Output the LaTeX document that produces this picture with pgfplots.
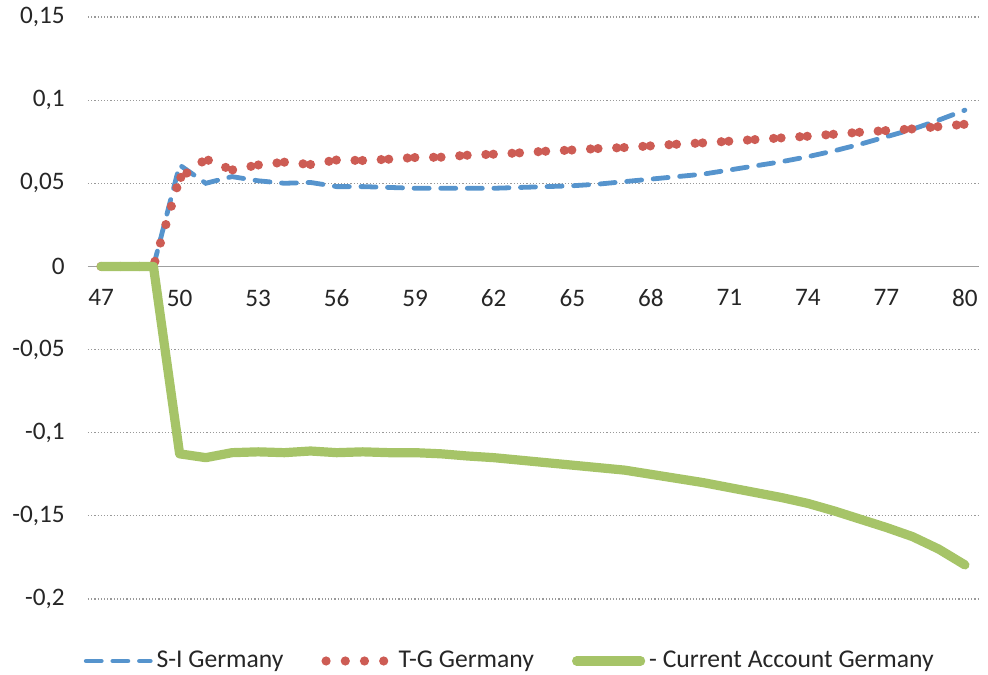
\documentclass[border=0pt]{standalone}
\usepackage{pgfplots}
\pgfplotsset{compat=1.18}
\usepackage{fontspec}
\setmainfont{Carlito}
\definecolor{siblue}{RGB}{86,148,205}
\definecolor{tgred}{RGB}{205,92,84}
\definecolor{cagreen}{RGB}{166,196,104}
\begin{document}
\begin{tikzpicture}
\begin{axis}[
  name=main,
  scale only axis, width=445pt, height=291pt,
  xmin=46.5, xmax=80.5, ymin=-0.2, ymax=0.15,
  axis x line=middle, axis y line=left,
  x axis line style={-, draw=gray!75, line width=0.8pt},
  y axis line style={draw=none},
  tick style={draw=none},
  xtick={47,50,53,56,59,62,65,68,71,74,77,80},
  xticklabels={47,50,53,56,59,62,65,68,71,74,77,80},
  ytick={-0.2,-0.15,-0.1,-0.05,0,0.05,0.1,0.15},
  yticklabels={{-0,2},{-0,15},{-0,1},{-0,05},{0},{0,05},{0,1},{0,15}},
  ymajorgrids,
  major grid style={draw=gray!80, line width=0.6pt, dash pattern=on 0.6pt off 1.0pt},
  ticklabel style={font=\fontsize{12.6}{15}\selectfont, text=black!85},
  xticklabel style={yshift=-6pt},
  yticklabel style={xshift=-6pt},
  legend columns=3,
  legend style={draw=none, fill=none, at={(0.475,-0.1065)}, anchor=center,
    font=\fontsize{12.8}{15}\selectfont, text=black!85,
    /tikz/every even column/.append style={column sep=17pt}},
  legend image code/.code={\draw[#1] (0pt,0pt) -- (32pt,0pt);},
]
\addplot[siblue, line width=2.4pt, line cap=round, dash pattern=on 7.5pt off 5.8pt] coordinates {
(47,0)(48,0)(49,0)(50,0.061)(51,0.050)(52,0.054)(53,0.0515)(54,0.050)(55,0.0505)(56,0.048)(57,0.048)(58,0.0475)(59,0.047)(60,0.047)(61,0.047)(62,0.047)(63,0.0475)(64,0.048)(65,0.0485)(66,0.0495)(67,0.051)(68,0.0525)(69,0.054)(70,0.0555)(71,0.058)(72,0.0605)(73,0.063)(74,0.066)(75,0.0695)(76,0.0735)(77,0.078)(78,0.0825)(79,0.088)(80,0.094)
};
\addlegendentry{S-I Germany}
\addplot[tgred, line width=4.6pt, line cap=round, dash pattern=on 0pt off 9.6pt] coordinates {
(47,0)(48,0)(49,0)(50,0.053)
};
\addlegendentry{T-G Germany}
\addplot[forget plot, tgred, line width=4.6pt, line cap=round, dash pattern=on 0pt off 9.35pt on 0pt off 3.75pt, dash phase=8.6pt] coordinates {
(50,0.053)(51,0.0645)(52,0.058)(53,0.061)(54,0.0627)(55,0.0613)(56,0.064)(57,0.0637)(58,0.0645)(59,0.0655)(60,0.0657)(61,0.0669)(62,0.0675)(63,0.0683)(64,0.0693)(65,0.070)(66,0.0709)(67,0.0715)(68,0.0725)(69,0.0735)(70,0.0743)(71,0.0753)(72,0.0763)(73,0.0773)(74,0.0783)(75,0.0795)(76,0.0807)(77,0.0817)(78,0.0827)(79,0.0841)(80,0.0855)
};
\addplot[cagreen, line width=4.6pt, line cap=round, line join=round] coordinates {
(47,0)(48,0)(49,0)(50,-0.1127)(51,-0.115)(52,-0.112)(53,-0.1115)(54,-0.112)(55,-0.111)(56,-0.112)(57,-0.1115)(58,-0.112)(59,-0.112)(60,-0.1127)(61,-0.114)(62,-0.115)(63,-0.1165)(64,-0.118)(65,-0.1195)(66,-0.121)(67,-0.1225)(68,-0.125)(69,-0.1275)(70,-0.130)(71,-0.133)(72,-0.136)(73,-0.139)(74,-0.1425)(75,-0.147)(76,-0.152)(77,-0.157)(78,-0.1625)(79,-0.170)(80,-0.1795)
};
\addlegendentry{- Current Account Germany}
\end{axis}
\pgfresetboundingbox
\path[use as bounding box] ([shift={(-44pt,-37.5pt)}]main.south west) rectangle ([shift={(5pt,8.5pt)}]main.north east);
\end{tikzpicture}
\end{document}
